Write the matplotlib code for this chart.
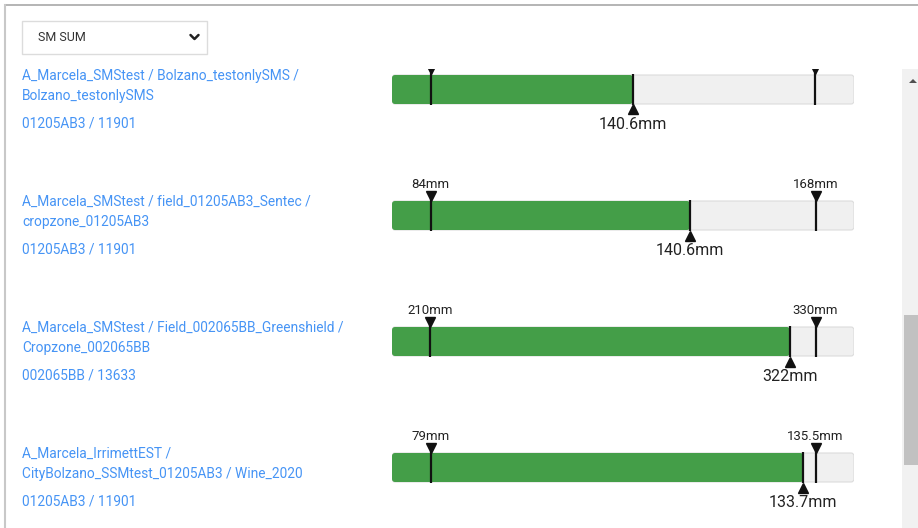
import matplotlib
matplotlib.use('Agg')
import matplotlib.pyplot as plt
from matplotlib.patches import FancyBboxPatch, Rectangle, Polygon

plt.rcParams['font.family'] = ['Roboto', 'DejaVu Sans']

# data
dropdown_label = 'SM SUM'
paths = [
    'A_Marcela_SMStest / Bolzano_testonlySMS /\nBolzano_testonlySMS',
    'A_Marcela_SMStest / field_01205AB3_Sentec /\ncropzone_01205AB3',
    'A_Marcela_SMStest / Field_002065BB_Greenshield /\nCropzone_002065BB',
    'A_Marcela_IrrimettEST /\nCityBolzano_SSMtest_01205AB3 / Wine_2020',
]
ids = ['01205AB3 / 11901', '01205AB3 / 11901', '002065BB / 13633', '01205AB3 / 11901']
low_mm = [118, 84, 210, 79]          # first row labels are scrolled out of view
high_mm = [161, 168, 330, 135.5]
value_mm = [140.6, 140.6, 322, 133.7]

# styles
W, H = 918, 528
GREEN = '#449e48'
TRACK = '#f0f0f0'
LINK = '#4694f5'
INK = '#111111'
ROW_STEP = 126
BAR_H = 29

fig = plt.figure(figsize=(W / 100, H / 100), dpi=100)
fig.patch.set_facecolor('white')

# page chrome in pixel coords
bg = fig.add_axes([0, 0, 1, 1])
bg.set_xlim(0, W)
bg.set_ylim(H, 0)
bg.axis('off')

bg.plot([5, W], [5, 5], color='#a8a8a8', lw=1.2)
bg.plot([5, 5], [5, H], color='#c8c8c8', lw=1.5)

bg.add_patch(Rectangle((22, 21), 185, 33, fc='white', ec='#dcdcdc', lw=1))
bg.text(38, 37.5, dropdown_label, va='center', ha='left', fontsize=9, color='#333333')
bg.plot([190.5, 194.5, 198.5], [35, 39, 35], color='#222222', lw=1.8, solid_capstyle='round')

# scrollbar
bg.add_patch(Rectangle((902, 69), 16, H - 69, fc='#f1f1f1', ec='none'))
bg.add_patch(Rectangle((904, 315), 14, 150, fc='#c1c1c1', ec='none'))
bg.add_patch(Polygon([[909, 83], [913, 79], [917, 83]], closed=True, fc='#505050', ec='none'))

for i in range(len(paths)):
    bar_top = 75 + ROW_STEP * i
    bar_bottom = bar_top + BAR_H

    # left labels
    for k, line in enumerate(paths[i].split('\n')):
        bg.text(22, bar_top + 1 + 20 * k, line, va='center', ha='left', fontsize=9.9, color=LINK)
    bg.text(22, bar_top + 49, ids[i], va='center', ha='left', fontsize=9.9, color=LINK)

    # gauge axes: x in mm, y in page pixels
    y_top = max(bar_top - 36, 69)
    y_bot = bar_bottom + 32
    ax = fig.add_axes([392 / W, 1 - y_bot / H, 462 / W, (y_bot - y_top) / H])
    ax.axis('off')
    lo, hi, val = low_mm[i], high_mm[i], value_mm[i]
    pad = (hi - lo) / 10
    x0, x1 = lo - pad, hi + pad
    ax.set_xlim(x0, x1)
    ax.set_ylim(y_bot, y_top)
    px_per_mm = 462 / (x1 - x0)
    style = 'round,pad=0,rounding_size=%f' % (3 / px_per_mm)

    ax.add_patch(FancyBboxPatch((x0, bar_top), x1 - x0, BAR_H, boxstyle=style,
                                mutation_aspect=px_per_mm, fc=TRACK, ec='#dcdcdc', lw=0.8))
    ax.add_patch(FancyBboxPatch((x0, bar_top), val - x0, BAR_H, boxstyle=style,
                                mutation_aspect=px_per_mm, fc=GREEN, ec='none'))

    # thresholds
    ax.vlines([lo, hi], bar_top - 2, bar_bottom + 1, color=INK, lw=1.6)
    ax.plot([lo, hi], [bar_top - 5.5] * 2, 'v', ms=7.5, color=INK, ls='none')
    for t in (lo, hi):
        ax.text(t, bar_top - 13, '%gmm' % t, ha='center', va='baseline',
                fontsize=9.5, color='#222222', clip_on=True)

    # current value
    ax.vlines(val, bar_top - 1, bar_bottom + 1, color=INK, lw=1.6)
    ax.plot([val], [bar_bottom + 5.5], '^', ms=7.5, color=INK, ls='none')
    ax.text(val, bar_bottom + 25, '%gmm' % val, ha='center', va='baseline',
            fontsize=11.5, color='#222222', clip_on=True)

fig.savefig('out.png', dpi=100)
